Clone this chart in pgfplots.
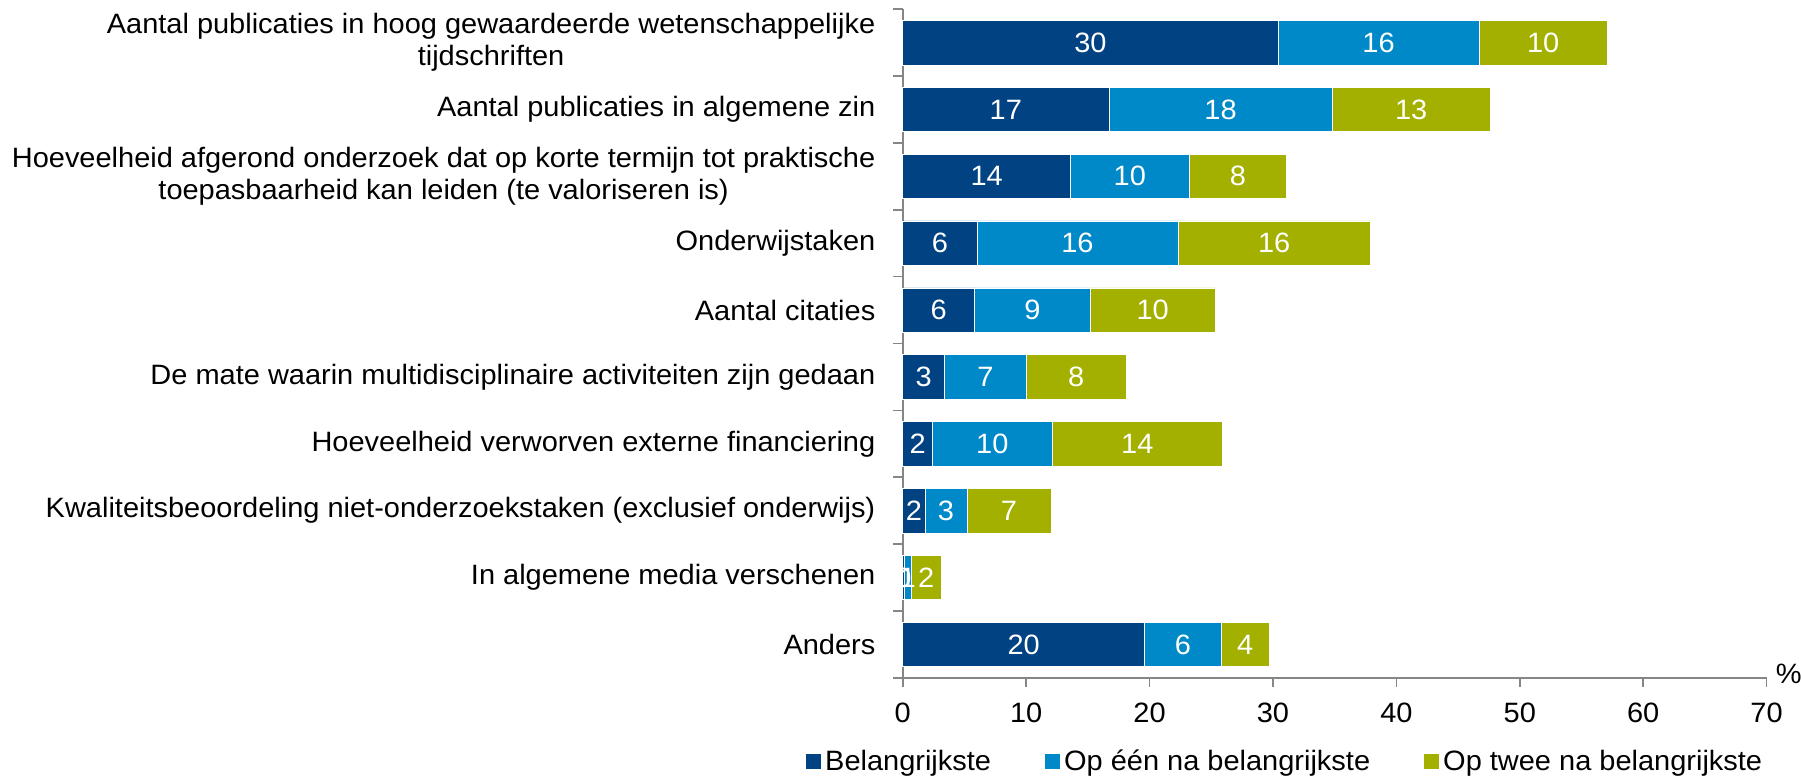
\documentclass[border=0pt]{standalone}
\usepackage{fontspec}
\setmainfont{Liberation Sans}[FakeStretch=1.035]
\usepackage{pgfplots}
\pgfplotsset{compat=1.18}
\usepackage{pgfplotstable}
\definecolor{cA}{RGB}{0,66,130}
\definecolor{cB}{RGB}{0,137,200}
\definecolor{cC}{RGB}{163,176,0}
\definecolor{axgray}{RGB}{134,134,134}

% segment values (percent)
\pgfplotstableread{
y x
1 30.4
2 16.7
3 13.6
4 6.0
5 5.8
6 3.4
7 2.4
8 1.8
9 0.1
10 19.6
}\dataA
\pgfplotstableread{
y x
1 16.3
2 18.1
3 9.6
4 16.3
5 9.4
6 6.6
7 9.7
8 3.4
9 0.6
10 6.2
}\dataB
\pgfplotstableread{
y x
1 10.4
2 12.8
3 7.9
4 15.6
5 10.1
6 8.1
7 13.8
8 6.8
9 2.4
10 3.9
}\dataC
% label positions (segment centres) and shown values
\pgfplotstableread{
y x lab
1 15.2 30
2 8.35 17
3 6.8 14
4 3.0 6
5 2.9 6
6 1.7 3
7 1.2 2
8 0.9 2
9 0.05 0
10 9.8 20
1 38.55 16
2 25.75 18
3 18.4 10
4 14.15 16
5 10.5 9
6 6.7 7
7 7.25 10
8 3.5 3
9 0.4 1
10 22.7 6
1 51.9 10
2 41.2 13
3 27.15 8
4 30.1 16
5 20.25 10
6 14.05 8
7 19.0 14
8 8.6 7
9 1.9 2
10 27.75 4
}\labs

\newcommand{\fs}{\fontsize{14}{16}\selectfont}

\pgfplotsset{
  common/.style={
    at={(451.4pt,50.1pt)}, anchor=south west,
    scale only axis, width=431.9pt, height=334.3pt,
    xmin=0, xmax=70, ymin=0.5, ymax=10.5, y dir=reverse,
    clip=false,
  }
}

\begin{document}
\begin{tikzpicture}
\useasboundingbox (0,0) rectangle (900.5pt,389pt);
\begin{axis}[
  common,
  xbar stacked, bar width=0.665,
  axis x line*=bottom, axis y line*=left,
  axis line style={axgray, line width=0.8pt},
  tick style={axgray, line width=0.8pt},
  tick align=outside, major tick length=4.7pt,
  xtick={0,10,...,70},
  ytick={0.5,1.5,...,10.5}, yticklabels={},
  extra y ticks={1,2,...,10},
  extra y tick style={tick style={draw=none}},
  extra y tick labels={
    {Aantal publicaties in hoog gewaardeerde wetenschappelijke\\tijdschriften},
    {Aantal publicaties in algemene zin},
    {Hoeveelheid afgerond onderzoek dat op korte termijn tot praktische\\toepasbaarheid kan leiden (te valoriseren is)},
    {Onderwijstaken},
    {Aantal citaties},
    {De mate waarin multidisciplinaire activiteiten zijn gedaan},
    {Hoeveelheid verworven externe financiering},
    {Kwaliteitsbeoordeling niet-onderzoekstaken (exclusief onderwijs)},
    {In algemene media verschenen},
    {Anders}},
  yticklabel style={align=center, font=\fs, text=black, xshift=-5.5pt},
  xticklabel style={font=\fs, text=black, yshift=-4.5pt},
  /pgf/number format/assume math mode=true,
  legend style={at={(1,-0.125)}, anchor=east, legend columns=-1, draw=none,
    fill=none, inner sep=0pt, font=\fs,
    /tikz/every even column/.append style={column sep=25pt},
    nodes={inner sep=2pt}},
  legend image code/.code={\fill[#1,draw=none] (0pt,-3.75pt) rectangle (7.5pt,3.75pt);},
]
\addplot[fill=cA, draw=white, line width=0.3pt] table[x=x, y=y] {\dataA};
\addplot[fill=cB, draw=white, line width=0.3pt] table[x=x, y=y] {\dataB};
\addplot[fill=cC, draw=white, line width=0.3pt] table[x=x, y=y] {\dataC};
\legend{Belangrijkste, Op één na belangrijkste, Op twee na belangrijkste}
\node[anchor=west, font=\fs, inner sep=0pt, xshift=4.5pt, yshift=2pt] at (rel axis cs:1,0) {\%};
\end{axis}
\begin{axis}[
  common, hide axis,
  point meta=explicit symbolic,
  nodes near coords,
  every node near coord/.append style={anchor=center, text=white,
    font=\fs, inner sep=0pt},
]
\addplot[only marks, mark=none] table[x=x, y=y, meta=lab] {\labs};
\end{axis}
\end{tikzpicture}
\end{document}
